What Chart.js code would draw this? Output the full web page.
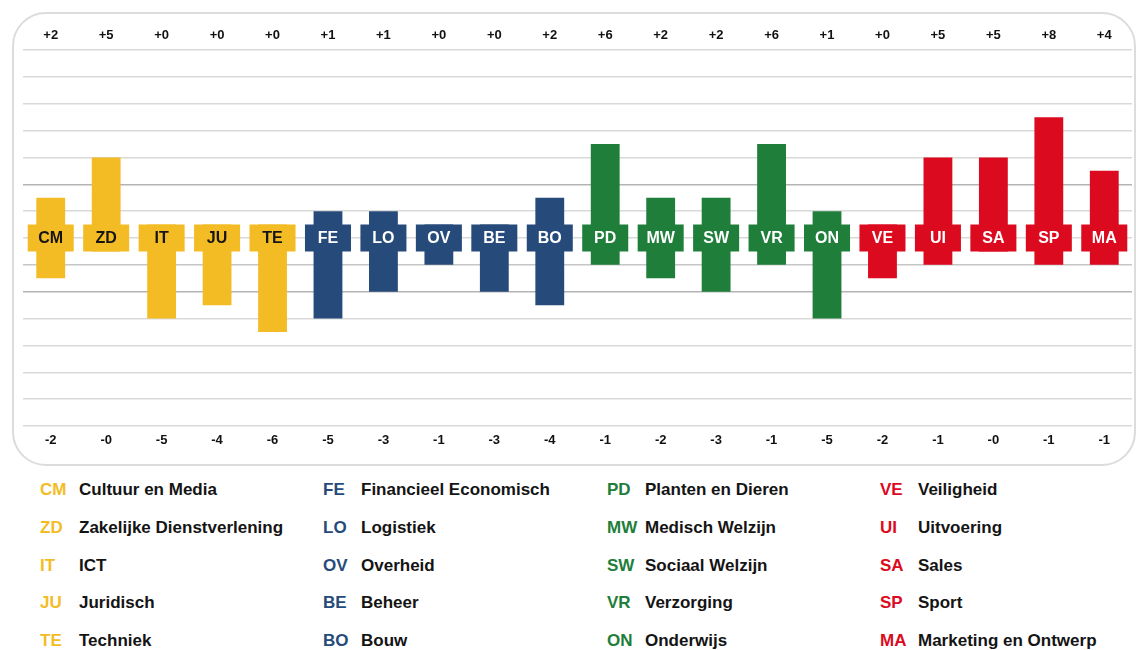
<!DOCTYPE html>
<html>
<head>
<meta charset="utf-8">
<script src="https://cdn.jsdelivr.net/npm/chart.js@4/dist/chart.umd.min.js"></script>
<style>
  html, body { margin: 0; padding: 0; background: #fff; }
  #wrap { position: relative; width: 1136px; height: 650px; overflow: hidden; font-family: "Liberation Sans", Arial, sans-serif; }
  #frame { position: absolute; left: 12px; top: 12px; width: 1124px; height: 454px; box-sizing: border-box;
           border: 2px solid #dcdcdc; border-radius: 34px; }
  #c { position: absolute; left: 0; top: 0; }
  .lg { position: absolute; font-weight: bold; font-size: 17px; line-height: 20px; white-space: nowrap; }
  .nm { color: #141414; }
</style>
</head>
<body>
<div id="wrap">
  <div id="frame"></div>
  <canvas id="c" width="1136" height="470"></canvas>
  <div id="legend"></div>
</div>
<script>
const categories = ['CM','ZD','IT','JU','TE','FE','LO','OV','BE','BO','PD','MW','SW','VR','ON','VE','UI','SA','SP','MA'];
const names = ['Cultuur en Media','Zakelijke Dienstverlening','ICT','Juridisch','Techniek',
               'Financieel Economisch','Logistiek','Overheid','Beheer','Bouw',
               'Planten en Dieren','Medisch Welzijn','Sociaal Welzijn','Verzorging','Onderwijs',
               'Veiligheid','Uitvoering','Sales','Sport','Marketing en Ontwerp'];
const gains  = [2,5,0,0,0, 1,1,0,0,2, 6,2,2,6,1, 0,5,5,8,4];
const losses = [2,0,5,4,6, 5,3,1,3,4, 1,2,3,1,5, 2,1,0,1,1];
const topLabels = ['+2','+5','+0','+0','+0','+1','+1','+0','+0','+2','+6','+2','+2','+6','+1','+0','+5','+5','+8','+4'];
const bottomLabels = ['-2','-0','-5','-4','-6','-5','-3','-1','-3','-4','-1','-2','-3','-1','-5','-2','-1','-0','-1','-1'];
const groupColors = ['#F4BC24','#264B7A','#1E7E3A','#DC0A1E'];
const groupTextColors = ['#151515','#ffffff','#ffffff','#ffffff'];
const groupOf = categories.map((c, i) => Math.floor(i / 5));

const barColors = groupOf.map(g => groupColors[g]);
const barData = categories.map((c, i) => [-(losses[i] + 1), gains[i] + 1]);
const boxData = categories.map(() => [-1, 1]);

const boxLabelPlugin = {
  id: 'boxLabels',
  afterDatasetsDraw(chart) {
    const ctx = chart.ctx;
    const meta = chart.getDatasetMeta(1);
    ctx.save();
    ctx.font = 'bold 16px "Liberation Sans", Arial, sans-serif';
    ctx.textAlign = 'center';
    ctx.textBaseline = 'middle';
    meta.data.forEach((el, i) => {
      ctx.fillStyle = groupTextColors[groupOf[i]];
      ctx.fillText(categories[i], el.x, (el.y + el.base) / 2 + 1);
    });
    ctx.restore();
  }
};

new Chart(document.getElementById('c'), {
  type: 'bar',
  data: {
    labels: categories,
    datasets: [
      { data: barData, backgroundColor: barColors, barPercentage: 0.52, categoryPercentage: 1, grouped: false, order: 2 },
      { data: boxData, backgroundColor: barColors, barPercentage: 0.83, categoryPercentage: 1, grouped: false, order: 1 }
    ]
  },
  options: {
    responsive: false,
    devicePixelRatio: 1,
    animation: false,
    layout: { padding: { left: 23, right: 4, top: 0, bottom: 0 } },
    plugins: { legend: { display: false }, tooltip: { enabled: false } },
    scales: {
      x: {
        type: 'category', position: 'bottom', offset: true,
        grid: { display: false, drawTicks: false }, border: { display: false },
        ticks: { autoSkip: false, maxRotation: 0, padding: 7, color: '#111',
                 font: { family: '"Liberation Sans", Arial, sans-serif', weight: 'bold', size: 13 },
                 callback: (v, i) => bottomLabels[i] },
        afterFit: s => { s.height = 44; }
      },
      x2: {
        type: 'category', position: 'top', offset: true,
        grid: { display: false, drawTicks: false }, border: { display: false },
        ticks: { autoSkip: false, maxRotation: 0, padding: 7, color: '#111',
                 font: { family: '"Liberation Sans", Arial, sans-serif', weight: 'bold', size: 13 },
                 callback: (v, i) => topLabels[i] },
        afterFit: s => { s.height = 50; }
      },
      y: {
        min: -14, max: 14,
        ticks: { display: false, stepSize: 2 },
        grid: { drawTicks: false, lineWidth: 1.5,
                color: ctx => (ctx.tick && (ctx.tick.value === 4 || ctx.tick.value === -4)) ? '#b4b4b4'
                            : (ctx.tick && ctx.tick.value === -2) ? '#c6c6c6' : '#d9d9d9' },
        border: { display: false },
        afterFit: s => { s.width = 0; }
      }
    }
  },
  plugins: [boxLabelPlugin]
});

// Legend (HTML text)
const codeX = [40, 323, 607, 880];
const nameX = [79, 361, 645, 918];
const rowY = [490, 528, 566, 603, 641];
const legend = document.getElementById('legend');
categories.forEach((c, i) => {
  const col = groupOf[i], row = i % 5;
  const a = document.createElement('div');
  a.className = 'lg';
  a.style.left = codeX[col] + 'px';
  a.style.top = (rowY[row] - 10) + 'px';
  a.style.color = groupColors[col];
  a.textContent = c;
  legend.appendChild(a);
  const b = document.createElement('div');
  b.className = 'lg nm';
  b.style.left = nameX[col] + 'px';
  b.style.top = (rowY[row] - 10) + 'px';
  b.textContent = names[i];
  legend.appendChild(b);
});
</script>
</body>
</html>
